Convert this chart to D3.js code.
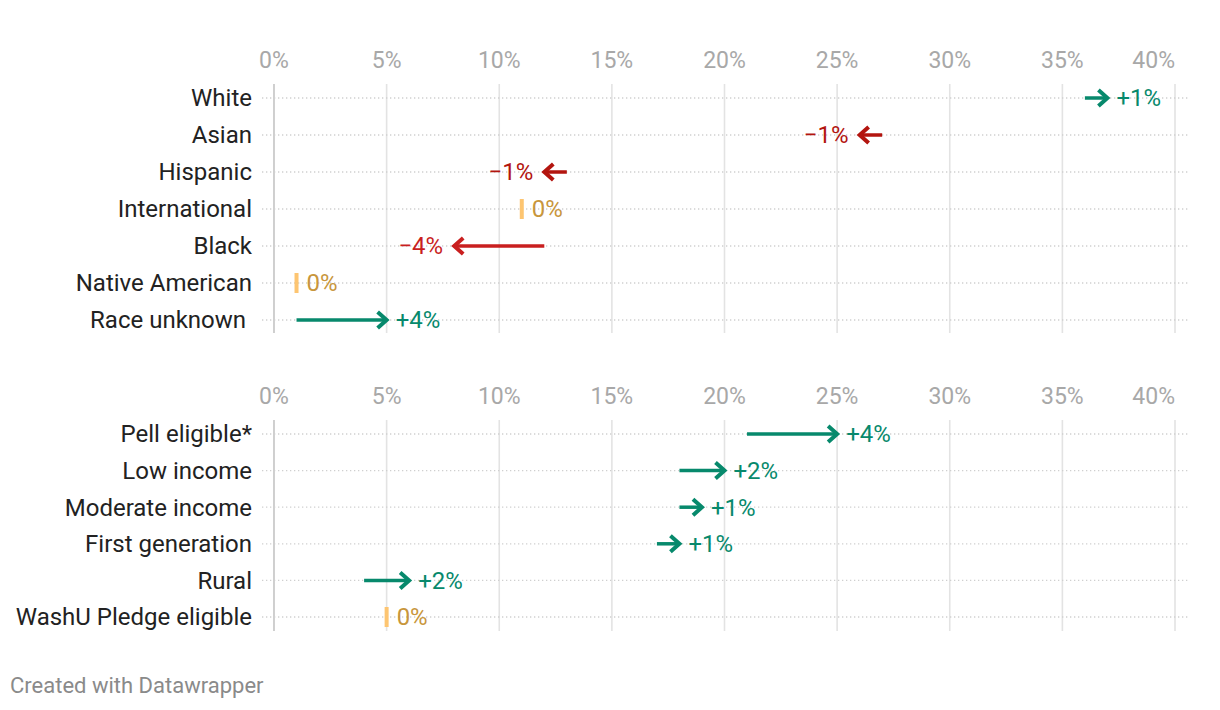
<!DOCTYPE html>
<html>
<head>
<meta charset="utf-8">
<script src="https://cdn.jsdelivr.net/npm/d3@7"></script>
<style>
  body { margin: 0; background: #fff; }
  svg text { font-family: Roboto, "Noto Sans", sans-serif; }
</style>
</head>
<body>
<script>
// Data: share of students, before -> after (percent).
var raceLabels = ["White", "Asian", "Hispanic", "International", "Black", "Native American", "Race unknown\u00a0"],
  raceFrom = [36, 27, 13, 11, 12, 1, 1],
  raceTo = [37, 26, 12, 11, 8, 1, 5];

var incomeLabels = ["Pell eligible*", "Low income", "Moderate income", "First generation", "Rural", "WashU Pledge eligible"],
  incomeFrom = [21, 18, 18, 17, 4, 5],
  incomeTo = [25, 20, 19, 18, 6, 5];

var tickValues = [0, 5, 10, 15, 20, 25, 30, 35, 40];

// Configuration.
var width = 1220,
  height = 710,
  fontSize = "24px",
  green = "#07896c",
  redDark = "#b3150f",
  redLight = "#c91f1f",
  zeroBar = "#fdc571",
  zeroText = "#c8963c";

var svg = d3.select("body").append("svg")
  .attr("width", width)
  .attr("height", height);

var x = d3.scaleLinear()
  .domain([0, 40])
  .range([274, 1175]);

function arrowColor(d) {
  var diff = d.to - d.from;
  if (diff > 0) return green;
  if (diff < 0) return diff <= -3 ? redLight : redDark;
  return zeroBar;
}

function panel(labels, from, to, tickY, gridTop, gridBottom, rowTop, rowBottom) {
  var rows = labels.map(function(l, i) {
    return {label: l, from: from[i], to: to[i]};
  });

  var y = d3.scalePoint()
    .domain(d3.range(rows.length))
    .range([rowTop, rowBottom]);

  var g = svg.append("g");

  // vertical grid lines
  g.selectAll("line.grid")
      .data(tickValues)
    .enter().append("line")
      .attr("class", "grid")
      .attr("x1", function(d) { return x(d); })
      .attr("x2", function(d) { return x(d); })
      .attr("y1", gridTop)
      .attr("y2", gridBottom)
      .style("stroke", function(d) { return d === 0 ? "#c4c4c4" : "#e3e3e3"; })
      .style("stroke-width", 1.6);

  // tick labels
  g.selectAll("text.tick")
      .data(tickValues)
    .enter().append("text")
      .attr("class", "tick")
      .attr("x", function(d) { return x(d); })
      .attr("y", tickY)
      .attr("dy", "0.35em")
      .attr("text-anchor", function(d, i) { return i === tickValues.length - 1 ? "end" : "middle"; })
      .style("font-size", "23px")
      .style("fill", "#a8a8a8")
      .text(function(d) { return d + "%"; });

  // dotted row lines
  g.selectAll("line.row")
      .data(rows)
    .enter().append("line")
      .attr("class", "row")
      .attr("x1", 262)
      .attr("x2", 1188)
      .attr("y1", function(d, i) { return y(i); })
      .attr("y2", function(d, i) { return y(i); })
      .style("stroke", "#cfcfcf")
      .style("stroke-width", 1.3)
      .style("stroke-dasharray", "1.3,2.7");

  // row labels
  g.selectAll("text.label")
      .data(rows)
    .enter().append("text")
      .attr("class", "label")
      .attr("x", 252)
      .attr("y", function(d, i) { return y(i); })
      .attr("dy", "0.35em")
      .attr("text-anchor", "end")
      .style("font-size", fontSize)
      .style("fill", "#222")
      .text(function(d) { return d.label; });

  var marks = g.selectAll("g.mark")
      .data(rows)
    .enter().append("g")
      .attr("class", "mark")
      .attr("transform", function(d, i) { return "translate(0," + y(i) + ")"; });

  // zero-change bars
  marks.filter(function(d) { return d.to === d.from; })
    .append("rect")
      .attr("x", function(d) { return x(d.from) - 2; })
      .attr("y", -10)
      .attr("width", 4)
      .attr("height", 20)
      .style("fill", zeroBar);

  var moved = marks.filter(function(d) { return d.to !== d.from; });

  moved.append("line")
      .attr("x1", function(d) { return x(d.from); })
      .attr("x2", function(d) { return x(d.to); })
      .style("stroke", arrowColor)
      .style("stroke-width", 3.5);

  moved.append("path")
      .attr("d", function(d) {
        var t = x(d.to), s = d.to > d.from ? -1 : 1;
        return "M" + (t + s * 9) + ",-8L" + t + ",0L" + (t + s * 9) + ",8";
      })
      .style("fill", "none")
      .style("stroke", arrowColor)
      .style("stroke-width", 4)
      .style("stroke-linejoin", "miter");

  // value labels
  marks.append("text")
      .attr("x", function(d) {
        if (d.to > d.from) return x(d.to) + 9;
        if (d.to < d.from) return x(d.to) - 11;
        return x(d.to) + 10;
      })
      .attr("dy", "0.35em")
      .attr("text-anchor", function(d) { return d.to < d.from ? "end" : "start"; })
      .style("font-size", fontSize)
      .style("fill", function(d) { return d.to === d.from ? zeroText : arrowColor(d); })
      .text(function(d) {
        var diff = d.to - d.from;
        return (diff > 0 ? "+" : diff < 0 ? "\u2212" : "") + Math.abs(diff) + "%";
      });
}

panel(raceLabels, raceFrom, raceTo, 60, 84, 333, 98, 320);
panel(incomeLabels, incomeFrom, incomeTo, 396, 420, 631, 434, 617);

svg.append("text")
  .attr("x", 10)
  .attr("y", 685)
  .attr("dy", "0.35em")
  .style("font-size", "22px")
  .style("fill", "#8a8a8a")
  .text("Created with Datawrapper");
</script>
</body>
</html>
